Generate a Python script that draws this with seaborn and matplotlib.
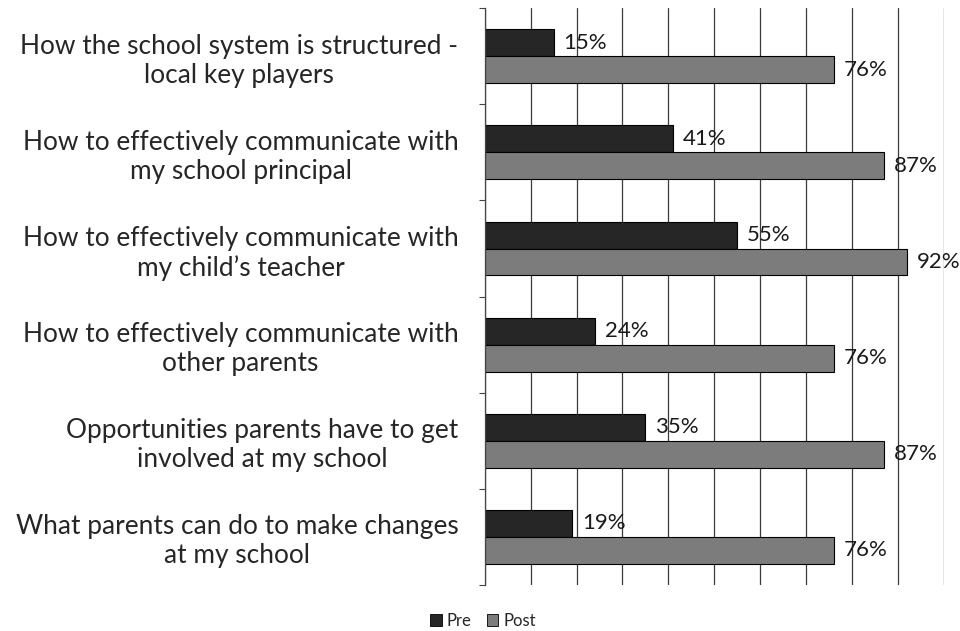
import pandas as pd
import matplotlib.pyplot as plt
import seaborn as sns
from matplotlib.ticker import FixedLocator, MultipleLocator

sns.set_style("white")
plt.rcParams['font.family'] = ['Lato', 'DejaVu Sans']

topics = [
    "How the school system is structured -\nlocal key players",
    "How to effectively communicate with\nmy school principal",
    "How to effectively communicate with\nmy child\u2019s teacher",
    "How to effectively communicate with\nother parents",
    "Opportunities parents have to get\ninvolved at my school",
    "What parents can do to make changes\nat my school",
]
pre = [15, 41, 55, 24, 35, 19]
post = [76, 87, 92, 76, 87, 76]
series = ["Pre", "Post"]
colors = {"Pre": "#262626", "Post": "#7c7c7c"}

df = pd.DataFrame({"topic": topics * 2,
                   "value": pre + post,
                   "when": ["Pre"] * len(topics) + ["Post"] * len(topics)})

fig = plt.figure(figsize=(9.6, 6.31), dpi=100)
ax = fig.add_axes([0.505, 0.073, 0.478, 0.914])

sns.barplot(data=df, y="topic", x="value", hue="when", hue_order=series,
            palette=colors, orient="h", width=0.56, edgecolor="black",
            linewidth=0.8, legend=False, ax=ax)

for cont in ax.containers:
    txts = ax.bar_label(cont, labels=["%d%%" % v for v in cont.datavalues],
                        padding=7, fontsize=16, color="#1a1a1a")
    for t in txts:
        t.set_clip_on(False)

ax.set_xlim(0, 100)
ax.set_ylim(len(topics) - 0.5, -0.5)
ax.xaxis.set_major_locator(MultipleLocator(10))
ax.set_xticklabels([])
ax.tick_params(axis="x", length=0)
ax.grid(axis="x", color="#3a3a3a", linewidth=0.9)
ax.set_axisbelow(True)

ax.yaxis.set_minor_locator(FixedLocator([i - 0.5 for i in range(len(topics) + 1)]))
ax.tick_params(axis="y", which="major", length=0, pad=19, labelsize=18.9)
ax.tick_params(axis="y", which="minor", length=4, width=0.8, left=True, direction="out", color="#444")
for lab in ax.get_yticklabels():
    lab.set_multialignment("center")
ax.set_xlabel("")
ax.set_ylabel("")

for side in ["top", "right", "bottom"]:
    ax.spines[side].set_visible(False)
ax.spines["left"].set_color("#444")
ax.spines["left"].set_linewidth(0.9)

handles = [plt.Rectangle((0, 0), 1, 1, facecolor=colors[s], edgecolor="black", linewidth=0.6)
           for s in series]
fig.legend(handles, series, loc="center", bbox_to_anchor=(483 / 960, 1 - 621 / 631),
           ncol=2, frameon=False, fontsize=12, handlelength=0.7, handleheight=0.7,
           handletextpad=0.3, columnspacing=0.9)

fig.savefig("out.png", dpi=100)
